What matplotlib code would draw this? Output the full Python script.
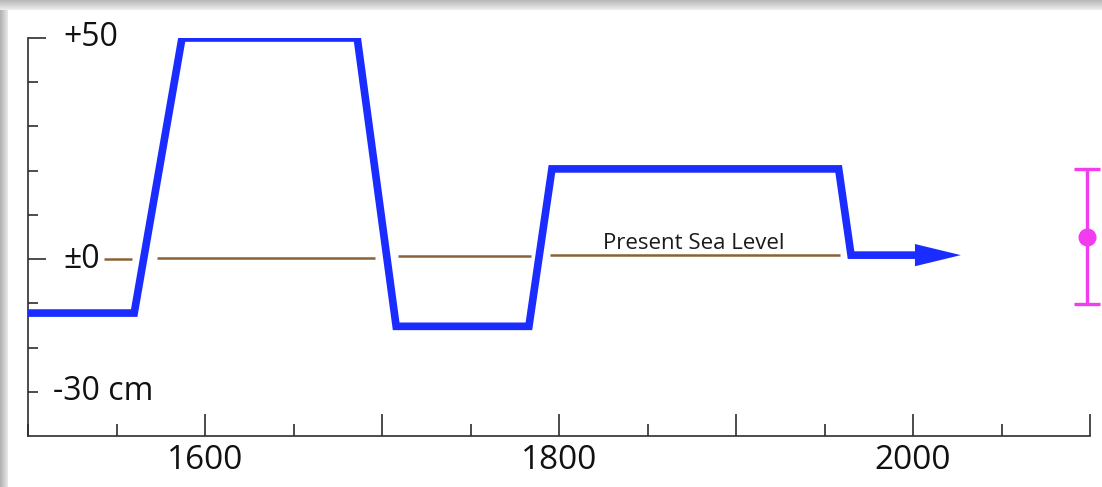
import numpy as np
import matplotlib.pyplot as plt
from matplotlib.ticker import MultipleLocator, FixedLocator

plt.rcParams['font.family'] = ['Open Sans', 'DejaVu Sans']

# Sea level curve (year, cm relative to present sea level)
years = [1500, 1560, 1587, 1686, 1708, 1783, 1796, 1958, 1965, 2005]
levels = [-12.2, -12.2, 50, 50, -15.2, -15.2, 20.4, 20.4, 0.9, 0.9]
arrow_tip = (2027, 0.9)

# Present sea level line, broken where the curve crosses it
psl_start = [1543, 1573, 1709, 1795]
psl_end = [1559, 1696, 1784, 1959]
psl_level = [0.0, 0.3, 0.8, 1.0]

# Magenta estimate with error bar
est_year = 2098.5
est_value = 5.0
est_low, est_high = -10.2, 20.4

ytick_labels = ["+50", "±0", "-30 cm"]
ytick_values = [50, 0, -30]
xtick_labels = ["1600", "1800", "2000"]
xtick_values = [1600, 1800, 2000]

BLUE = '#1a2cff'
BROWN = '#8a6237'
MAGENTA = '#f23cf0'
AXC = '#2e2e2e'

fig = plt.figure(figsize=(11.02, 4.87), dpi=100)
fig.patch.set_facecolor('white')
ax = fig.add_axes([28/1102, 51/487, 1062/1102, 398/487])
ax.set_xlim(1500, 2100)
ax.set_ylim(-40, 50)

for s in ['top', 'right']:
    ax.spines[s].set_visible(False)
for s in ['left', 'bottom']:
    ax.spines[s].set_color(AXC)
    ax.spines[s].set_linewidth(1.2)

# x ticks: major every 100, minor every 50, pointing up
ax.xaxis.set_minor_locator(MultipleLocator(50))
ax.tick_params(axis='x', which='major', direction='in', length=16, width=1.2,
               color=AXC, labelsize=24, labelcolor='#111111', pad=6)
ax.tick_params(axis='x', which='minor', direction='in', length=8.5, width=1.2, color=AXC)
ax.set_xticks(xtick_values + [1700, 1900, 2100])
ax.set_xticklabels(xtick_labels + ["", "", ""])

# y ticks: pointing right
ax.yaxis.set_major_locator(FixedLocator([50, 0]))
ax.yaxis.set_minor_locator(FixedLocator([40, 30, 20, 10, -10, -20, -30]))
ax.tick_params(axis='y', which='major', direction='in', length=13, width=1.2,
               color=AXC, labelleft=False)
ax.tick_params(axis='y', which='minor', direction='in', length=7, width=1.2, color=AXC)

# y labels drawn inside the axes, offset from the spine (pixels)
label_dx = [63, 54, 75]
for lab, val, dx in zip(ytick_labels, ytick_values, label_dx):
    ax.annotate(lab, xy=(1500, val), xytext=(dx * 0.72, 0), textcoords='offset points',
                ha='center', va='center', fontsize=23, color='#111111')

# present sea level
for x0, x1, lv in zip(psl_start, psl_end, psl_level):
    ax.plot([x0, x1], [lv, lv], color=BROWN, lw=1.8, solid_capstyle='butt')
ax.text(1876, 2.2, "Present Sea Level", ha='center', va='baseline',
        fontsize=16, color='#1a1a1a')

# sea level curve
ax.plot(years, levels, color=BLUE, lw=5.5, solid_joinstyle='miter',
        solid_capstyle='butt', zorder=5)
ax.annotate('', xy=arrow_tip, xytext=(years[-1] - 20, levels[-1]),
            arrowprops=dict(arrowstyle='-|>,head_length=33,head_width=8',
                            mutation_scale=1, lw=0, color=BLUE,
                            shrinkA=0, shrinkB=0), zorder=6)

# estimate with error bar
ax.errorbar([est_year], [est_value],
            yerr=[[est_value - est_low], [est_high - est_value]],
            fmt='o', color=MAGENTA, ms=12, elinewidth=2.4, capsize=9.5,
            capthick=2.4, clip_on=False, zorder=6)

# shadow of the window frame on top and left
top = fig.add_axes([0, 1 - 10/487, 1, 10/487])
top.imshow(np.linspace(0.72, 0.93, 20).reshape(-1, 1) * np.ones((1, 10)),
           cmap='gray', vmin=0, vmax=1, aspect='auto', extent=[0, 1, 0, 1])
top.axis('off')
left = fig.add_axes([0, 0, 8/1102, 1 - 10/487])
left.imshow(np.ones((10, 1)) * np.linspace(0.7, 0.9, 8).reshape(1, -1),
            cmap='gray', vmin=0, vmax=1, aspect='auto', extent=[0, 1, 0, 1])
left.axis('off')

fig.savefig('out.png', dpi=100)
